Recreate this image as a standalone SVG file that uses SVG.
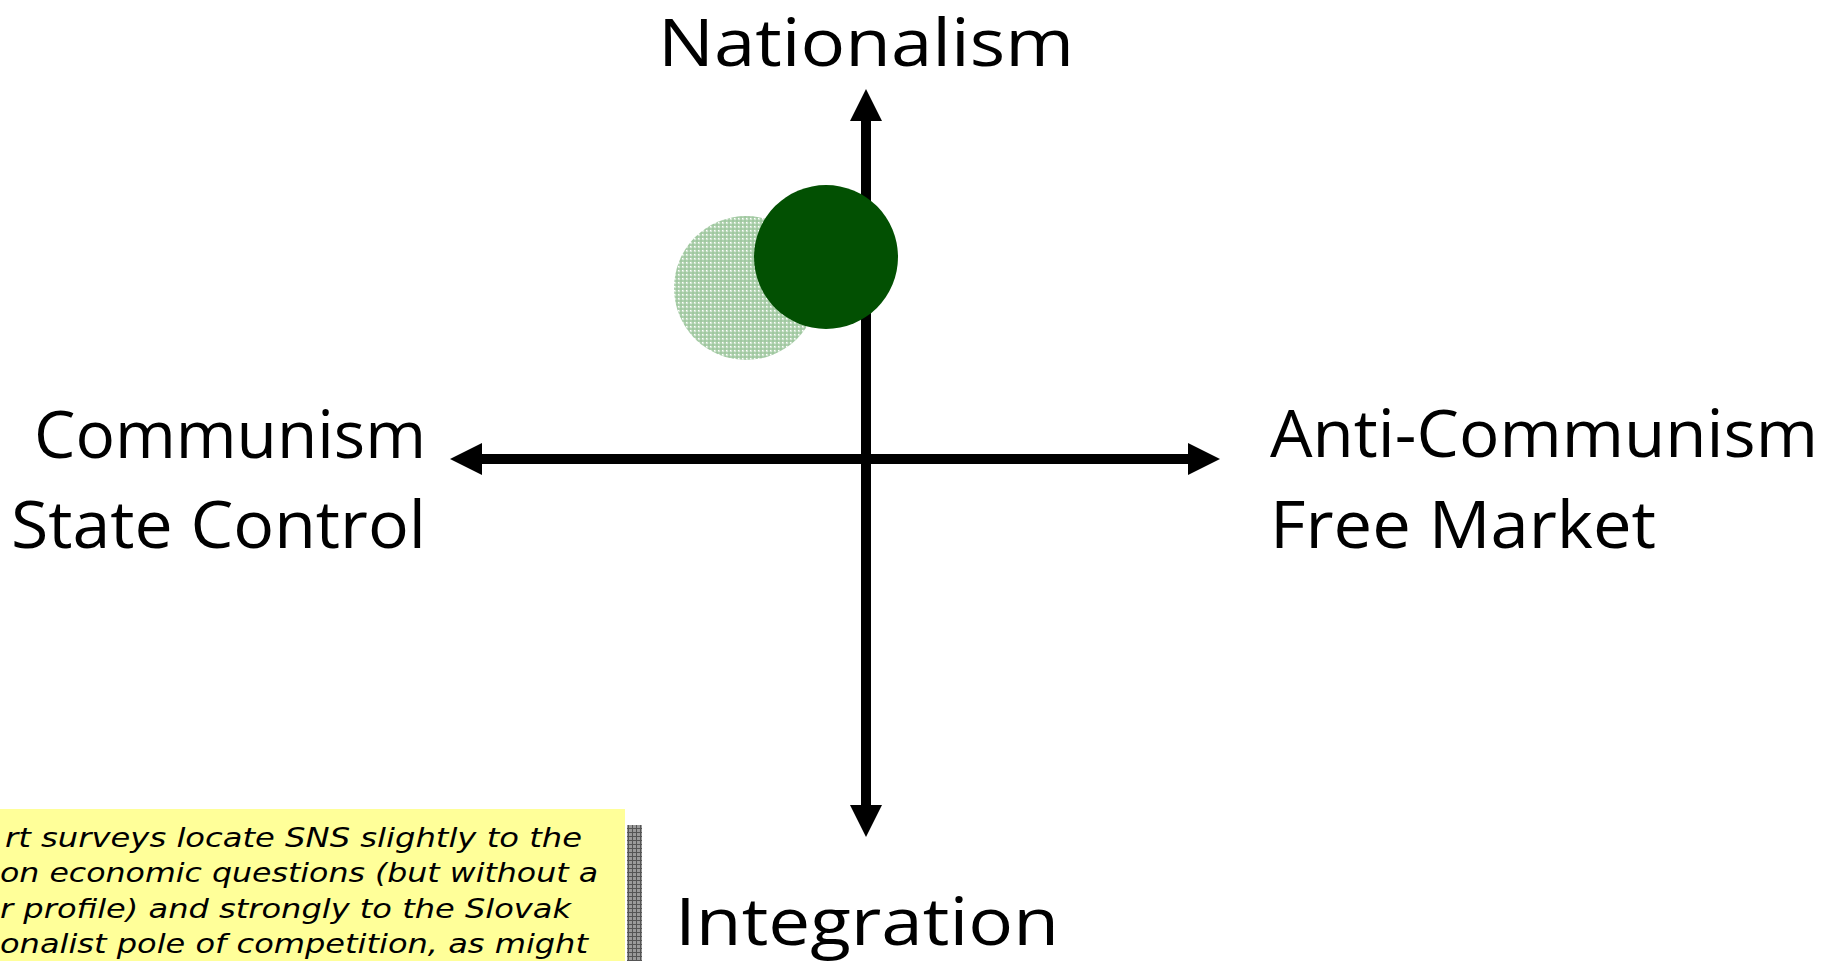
<svg xmlns="http://www.w3.org/2000/svg" width="1838" height="961" viewBox="0 0 1838 961">
  <style>
    .pole { font-family: "Open Sans", "Liberation Sans", sans-serif; font-size: 66px; fill: #000; }
    .note-text { font-family: "DejaVu Sans", "Liberation Sans", sans-serif; font-style: italic; font-size: 27px; fill: #000; }
    .axis { stroke: #000; stroke-width: 10; fill: none; }
  </style>
  <defs>
    <marker id="head" viewBox="0 0 32 32" markerWidth="32" markerHeight="32" markerUnits="userSpaceOnUse" refX="0" refY="16" orient="auto-start-reverse">
      <path d="M0,0 L32,16 L0,32 Z" fill="#000"/>
    </marker>
    <!-- gingham fill for the earlier position -->
    <pattern id="gingham" width="4" height="4" patternUnits="userSpaceOnUse">
      <rect width="4" height="4" fill="#d3e6d3"/>
      <rect x="0" y="0" width="2" height="4" fill="#9cc59c" opacity="0.7"/>
      <rect x="0" y="0" width="4" height="2" fill="#9cc59c" opacity="0.7"/>
      <rect x="2" y="2" width="1" height="1" fill="#ffffff"/>
    </pattern>
    <!-- hatched drop shadow of the note -->
    <pattern id="hatch" width="4" height="4" patternUnits="userSpaceOnUse">
      <rect width="4" height="4" fill="#9a9a9a"/>
      <rect x="0" y="0" width="1" height="4" fill="#555"/>
      <rect x="0" y="0" width="4" height="1" fill="#555"/>
    </pattern>
  </defs>

  <rect width="1838" height="961" fill="#ffffff"/>

  <!-- axes -->
  <g id="connectors">
    <line class="axis" x1="482" y1="459" x2="1188" y2="459" marker-start="url(#head)" marker-end="url(#head)"/>
    <line class="axis" x1="866" y1="121" x2="866" y2="805" marker-start="url(#head)" marker-end="url(#head)"/>
  </g>

  <g id="pole-nationalism">
    <text class="pole" x="658" y="66" font-size="77" textLength="416" lengthAdjust="spacingAndGlyphs">Nationalism</text>
  </g>
  <g id="pole-communism">
    <text class="pole" x="34" y="458" textLength="392" lengthAdjust="spacingAndGlyphs">Communism</text>
    <text class="pole" x="11" y="548" textLength="415" lengthAdjust="spacingAndGlyphs">State Control</text>
  </g>
  <g id="pole-anti-communism">
    <text class="pole" x="1270" y="457" textLength="548" lengthAdjust="spacingAndGlyphs">Anti-Communism</text>
    <text class="pole" x="1270" y="548" textLength="386" lengthAdjust="spacingAndGlyphs">Free Market</text>
  </g>
  <g id="pole-integration">
    <text class="pole" x="675" y="945" textLength="384" lengthAdjust="spacingAndGlyphs">Integration</text>
  </g>

  <g id="position-earlier">
    <circle cx="746" cy="288" r="72" fill="url(#gingham)"/>
  </g>
  <g id="position-current">
    <circle cx="826" cy="257" r="72" fill="#025002"/>
  </g>

  <g id="note">
    <rect x="627" y="825" width="15" height="136" fill="url(#hatch)"/>
    <rect x="-20" y="809" width="645" height="160" fill="#ffff99"/>
    <text class="note-text" x="5" y="847" textLength="577" lengthAdjust="spacingAndGlyphs">rt surveys locate SNS slightly to the</text>
    <text class="note-text" x="0" y="882" textLength="598" lengthAdjust="spacingAndGlyphs">on economic questions (but without a</text>
    <text class="note-text" x="0" y="918" textLength="571" lengthAdjust="spacingAndGlyphs">r profile) and strongly to the Slovak</text>
    <text class="note-text" x="0" y="953" textLength="588" lengthAdjust="spacingAndGlyphs">onalist pole of competition, as might</text>
  </g>
</svg>
